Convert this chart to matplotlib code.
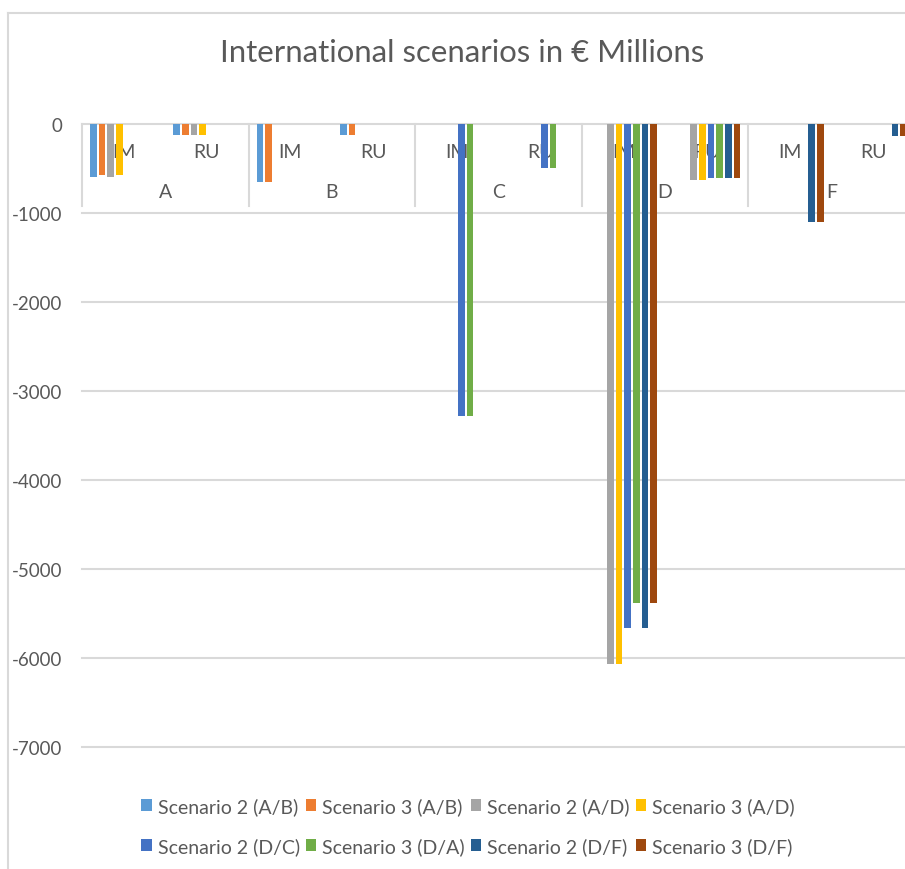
import matplotlib
matplotlib.use("Agg")
import matplotlib.pyplot as plt
from matplotlib.patches import Patch
from matplotlib.lines import Line2D
import matplotlib.transforms as mtransforms
import numpy as np

plt.rcParams['font.family'] = ['Lato', 'DejaVu Sans']

groups = ["A", "B", "C", "D", "F"]
subcats = ["IM", "RU"]
series_names = ["Scenario 2 (A/B)", "Scenario 3 (A/B)", "Scenario 2 (A/D)", "Scenario 3 (A/D)",
                "Scenario 2 (D/C)", "Scenario 3 (D/A)", "Scenario 2 (D/F)", "Scenario 3 (D/F)"]
colors = ["#5B9BD5", "#ED7D31", "#A5A5A5", "#FFC000", "#4472C4", "#70AD47", "#255E91", "#9E480E"]

# values per series over categories A-IM, A-RU, B-IM, B-RU, C-IM, C-RU, D-IM, D-RU, F-IM, F-RU
s2_ab = [-590, -120, -650, -120, 0, 0, 0, 0, 0, 0]
s3_ab = [-570, -120, -650, -120, 0, 0, 0, 0, 0, 0]
s2_ad = [-590, -120, 0, 0, 0, 0, -6070, -625, 0, 0]
s3_ad = [-570, -120, 0, 0, 0, 0, -6070, -625, 0, 0]
s2_dc = [0, 0, 0, 0, -3280, -490, -5660, -610, 0, 0]
s3_da = [0, 0, 0, 0, -3280, -490, -5380, -610, 0, 0]
s2_df = [0, 0, 0, 0, 0, 0, -5660, -610, -1100, -130]
s3_df = [0, 0, 0, 0, 0, 0, -5380, -610, -1100, -130]
series_values = [s2_ab, s3_ab, s2_ad, s3_ad, s2_dc, s3_da, s2_df, s3_df]
yticks = [0, -1000, -2000, -3000, -4000, -5000, -6000, -7000]

W, H = 905, 870
fig = plt.figure(figsize=(W / 100, H / 100), dpi=100)
txt = "#595959"
grid = "#d9d9d9"

left_px, right_px, top_px, bot_px = 82, 915, 125, 748
ax = fig.add_axes([left_px / W, 1 - bot_px / H, (right_px - left_px) / W, (bot_px - top_px) / H])

n_cat = len(groups) * len(subcats)
x = np.arange(n_cat)
slot = 0.104
bw = 0.08
for i, (vals, c, name) in enumerate(zip(series_values, colors, series_names)):
    off = (i - 3.5) * slot
    ax.bar(x + off, vals, width=bw, color=c, zorder=3, label=name)

ax.set_xlim(-0.5, n_cat - 0.5)
ax.set_ylim(-7000, 0)
ax.set_yticks(yticks)
ax.set_yticklabels([str(v) for v in yticks], fontsize=13.5, color=txt)
ax.tick_params(axis='y', length=0, pad=14)
ax.set_xticks([])
for s in ax.spines.values():
    s.set_visible(False)
for v in yticks:
    ax.axhline(v, color=grid, lw=1.5, zorder=1, clip_on=False)

trans = mtransforms.blended_transform_factory(ax.transData, ax.transAxes)
axh = bot_px - top_px
y_sub = 1 - (153 - top_px) / axh
y_grp = 1 - (193 - top_px) / axh
y_sep = 1 - (207 - top_px) / axh
for gi, g in enumerate(groups):
    for si, sc in enumerate(subcats):
        ax.text(gi * 2 + si, y_sub, sc, transform=trans, ha='center', va='center',
                fontsize=14, color=txt, zorder=2)
    ax.text(gi * 2 + 0.5, y_grp, g, transform=trans, ha='center', va='center',
            fontsize=14, color=txt, zorder=2)
for k in range(len(groups) + 1):
    ax.plot([k * 2 - 0.5, k * 2 - 0.5], [1, y_sep], transform=trans, color=grid, lw=1.5,
            clip_on=False, zorder=1)

fig.text(462 / W, 1 - 53 / H, "International scenarios in € Millions", ha='center', va='center',
         fontsize=22.4, color=txt)

# chart area border
fig.add_artist(Line2D([8 / W, 8 / W], [0, 1 - 14 / H], color=grid, lw=1.5, transform=fig.transFigure))
fig.add_artist(Line2D([8 / W, 1], [1 - 14 / H, 1 - 14 / H], color=grid, lw=1.5, transform=fig.transFigure))

# legend, row-major order for 4 columns x 2 rows
order = [0, 4, 1, 5, 2, 6, 3, 7]
handles = [Patch(facecolor=colors[i], edgecolor='none') for i in order]
labels = [series_names[i] for i in order]
leg = fig.legend(handles, labels, ncol=4, loc='center', bbox_to_anchor=(468 / W, 1 - 827 / H),
                 frameon=False, fontsize=14, handlelength=0.55, handleheight=0.55,
                 handletextpad=0.3, columnspacing=0.3, labelspacing=1.15)
for t in leg.get_texts():
    t.set_color(txt)

fig.savefig("out.png", dpi=100)
